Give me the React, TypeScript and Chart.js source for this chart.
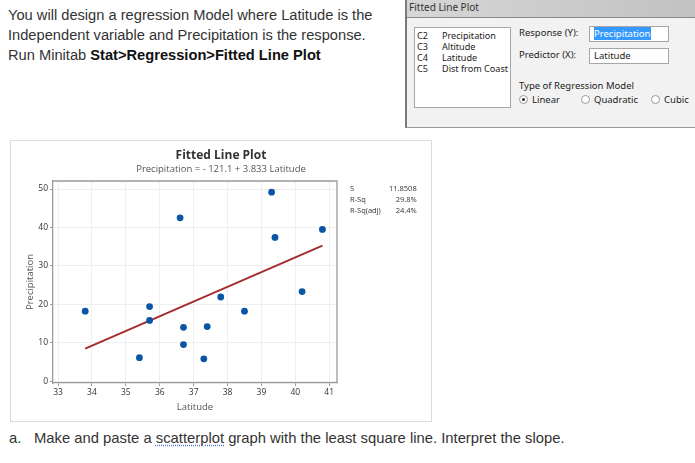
import React, { useEffect, useRef } from "react";
import { Chart, registerables } from "chart.js";
Chart.register(...registerables);

// ---- data ----
const latitude = [33.8, 35.4, 35.7, 35.7, 36.6, 36.7, 36.7, 37.3, 37.4, 37.8, 38.5, 39.3, 39.4, 40.2, 40.8];
const precipitation = [18.2, 6.1, 19.4, 15.8, 42.5, 14.0, 9.5, 5.8, 14.2, 21.9, 18.2, 49.2, 37.4, 23.3, 39.5];
const fitCoefficients = [-121.1, 3.833]; // intercept, slope
const statLabels = ["S", "R-Sq", "R-Sq(adj)"];
const statValues = ["11.8508", "29.8%", "24.4%"];
const xTickValues = [33, 34, 35, 36, 37, 38, 39, 40, 41];
const yTickValues = [0, 10, 20, 30, 40, 50];
const variableCodes = ["C2", "C3", "C4", "C5"];
const variableNames = ["Precipitation", "Altitude", "Latitude", "Dist from Coast"];
const regressionTypes = ["Linear", "Quadratic", "Cubic"];

const CHART_FONT = "'Open Sans', 'Noto Sans', sans-serif";
const UI_FONT = "'Noto Sans', 'Open Sans', sans-serif";
const PAGE_FONT = "'Liberation Sans', Arial, sans-serif";

const statsPlugin = {
  id: "statsBox",
  afterDraw(chart: any) {
    const { ctx, chartArea } = chart;
    ctx.save();
    ctx.font = `7.5px ${CHART_FONT}`;
    ctx.fillStyle = "#333";
    ctx.textBaseline = "middle";
    statLabels.forEach((lab, i) => {
      const y = chartArea.top + 8.3 + i * 10.65;
      ctx.textAlign = "left";
      ctx.fillText(lab, chartArea.right + 13, y);
      ctx.textAlign = "right";
      ctx.fillText(statValues[i], chartArea.right + 79.7, y);
    });
    ctx.restore();
  },
};

const frameBorderPlugin = {
  id: "plotFrame",
  afterDatasetsDraw(chart: any) {
    const { ctx, chartArea } = chart;
    ctx.save();
    ctx.strokeStyle = "#9a9a9a";
    ctx.lineWidth = 1.3;
    ctx.beginPath();
    ctx.moveTo(chartArea.left, chartArea.top);
    ctx.lineTo(chartArea.right, chartArea.top);
    ctx.lineTo(chartArea.right, chartArea.bottom);
    ctx.stroke();
    ctx.restore();
  },
};

function Radio({ checked }: { checked: boolean }) {
  return (
    <span
      style={{
        display: "inline-block",
        width: 9,
        height: 9,
        borderRadius: "50%",
        border: "1px solid #9a9a9a",
        background: "#fff",
        boxSizing: "border-box",
        position: "relative",
        verticalAlign: "middle",
      }}
    >
      {checked && (
        <span
          style={{
            position: "absolute",
            left: 2,
            top: 2,
            width: 3,
            height: 3,
            borderRadius: "50%",
            background: "#222",
          }}
        />
      )}
    </span>
  );
}

export default function App() {
  const ref = useRef<HTMLCanvasElement>(null);

  useEffect(() => {
    const canvas = ref.current!;
    const fitX = [Math.min(...latitude), Math.max(...latitude)];
    const fitData = fitX.map((x) => ({ x, y: fitCoefficients[0] + fitCoefficients[1] * x }));
    const points = latitude.map((x, i) => ({ x, y: precipitation[i] }));

    const chart = new Chart(canvas, {
      type: "scatter",
      data: {
        datasets: [
          {
            label: "Precipitation",
            data: points,
            backgroundColor: "#0b55a6",
            borderColor: "#0b55a6",
            borderWidth: 0,
            pointRadius: 3.4,
            order: 0,
          },
          {
            type: "line",
            label: "Fit",
            data: fitData,
            borderColor: "#a52a2a",
            borderWidth: 1.8,
            pointRadius: 0,
            showLine: true,
            fill: false,
            order: 1,
          } as any,
        ],
      },
      options: {
        animation: false,
        responsive: false,
        devicePixelRatio: 1,
        layout: { padding: 0 },
        plugins: {
          legend: { display: false },
          tooltip: { enabled: false },
          title: {
            display: true,
            text: "Fitted Line Plot",
            color: "#333",
            font: { family: CHART_FONT, size: 12, weight: "bold" },
            padding: { top: 7.5, bottom: 0 },
          },
          subtitle: {
            display: true,
            text: "Precipitation = - 121.1 + 3.833 Latitude",
            color: "#555",
            font: { family: CHART_FONT, size: 9.5 },
            padding: { top: 1, bottom: 5.7 },
          },
        },
        scales: {
          x: {
            type: "linear",
            min: 32.85,
            max: 41.23,
            afterBuildTicks: (s: any) => {
              s.ticks = xTickValues.map((v) => ({ value: v }));
            },
            afterFit: (s: any) => {
              s.height = 38;
            },
            grid: { color: "#efefef", tickColor: "#9a9a9a", tickLength: 3, lineWidth: 1 },
            border: { color: "#9a9a9a", width: 1.3 },
            ticks: {
              color: "#333",
              font: { family: CHART_FONT, size: 8.5 },
              padding: 1,
              maxRotation: 0,
              autoSkip: false,
              callback: (v: any) => String(v),
            },
            title: {
              display: true,
              text: "Latitude",
              color: "#555",
              font: { family: CHART_FONT, size: 9.5 },
              padding: { top: 0, bottom: 8.3 },
            },
          },
          y: {
            type: "linear",
            position: "left",
            min: -0.5,
            max: 52.1,
            afterBuildTicks: (s: any) => {
              s.ticks = yTickValues.map((v) => ({ value: v }));
            },
            afterFit: (s: any) => {
              s.width = 42;
            },
            grid: { color: "#efefef", tickColor: "#9a9a9a", tickLength: 3, lineWidth: 1 },
            border: { color: "#9a9a9a", width: 1.3 },
            ticks: {
              color: "#333",
              font: { family: CHART_FONT, size: 8.5 },
              padding: 2,
              autoSkip: false,
              callback: (v: any) => String(v),
            },
            title: {
              display: true,
              text: "Precipitation",
              color: "#555",
              font: { family: CHART_FONT, size: 9.5 },
              padding: { top: 13.8, bottom: 0 },
            },
          },
          y2: {
            type: "linear",
            position: "right",
            display: true,
            grid: { display: false, drawTicks: false },
            border: { display: false },
            ticks: { display: false },
            afterFit: (s: any) => {
              s.width = 94;
            },
          },
        },
      } as any,
      plugins: [statsPlugin, frameBorderPlugin],
    });
    return () => chart.destroy();
  }, []);

  return (
    <div
      style={{
        position: "fixed",
        left: 0,
        top: 0,
        width: 695,
        height: 463,
        background: "#fff",
        overflow: "hidden",
      }}
    >
      {/* top instructions */}
      <div
        style={{
          position: "absolute",
          left: 8,
          top: 6,
          fontFamily: PAGE_FONT,
          fontSize: 14.66,
          lineHeight: "19.8px",
          color: "#333",
          whiteSpace: "nowrap",
        }}
      >
        <div>You will design a regression Model where Latitude is the</div>
        <div>Independent variable and Precipitation is the response.</div>
        <div>
          Run Minitab <b style={{ color: "#111" }}>Stat&gt;Regression&gt;Fitted Line Plot</b>
        </div>
      </div>

      {/* dialog */}
      <div
        style={{
          position: "absolute",
          left: 405,
          top: 0,
          width: 290,
          height: 128,
          background: "#f2f2f2",
          borderLeft: "2px solid #7a7a7a",
          borderBottom: "1px solid #9a9a9a",
          boxSizing: "border-box",
          fontFamily: UI_FONT,
          color: "#222",
        }}
      >
        <div
          style={{
            position: "absolute",
            left: 0,
            top: 0,
            width: 288,
            height: 18,
            background: "linear-gradient(to right, #d6d6d6, #c2c2c2)",
            borderBottom: "1px solid #8a8a8a",
            boxSizing: "border-box",
            fontSize: 10,
            lineHeight: "14px",
            paddingLeft: 2,
            color: "#333",
          }}
        >
          Fitted Line Plot
        </div>
        {/* list box */}
        <div
          style={{
            position: "absolute",
            left: 7,
            top: 27,
            width: 97,
            height: 81,
            background: "#fff",
            border: "1px solid #a6a6a6",
            boxSizing: "border-box",
            fontSize: 9.1,
            lineHeight: "11.2px",
          }}
        >
          {variableCodes.map((c, i) => (
            <div key={c} style={{ position: "absolute", left: 2, top: 1.5 + i * 11.2, whiteSpace: "nowrap" }}>
              <span style={{ display: "inline-block", width: 25 }}>{c}</span>
              {variableNames[i]}
            </div>
          ))}
        </div>
        <div style={{ position: "absolute", left: 112, top: 26, fontSize: 9.5, whiteSpace: "nowrap" }}>Response (Y):</div>
        <div style={{ position: "absolute", left: 112, top: 48, fontSize: 9.5, whiteSpace: "nowrap" }}>Predictor (X):</div>
        <div
          style={{
            position: "absolute",
            left: 182,
            top: 26,
            width: 80,
            height: 16,
            background: "#fff",
            border: "1px solid #a6a6a6",
            boxSizing: "border-box",
            fontSize: 9.5,
            lineHeight: "13px",
          }}
        >
          <span style={{ marginLeft: 4, background: "#3399ff", color: "#fff", paddingRight: 1 }}>Precipitation</span>
        </div>
        <div
          style={{
            position: "absolute",
            left: 182,
            top: 48,
            width: 80,
            height: 16,
            background: "#fff",
            border: "1px solid #a6a6a6",
            boxSizing: "border-box",
            fontSize: 9.5,
            lineHeight: "13px",
            paddingLeft: 4,
          }}
        >
          Latitude
        </div>
        <div style={{ position: "absolute", left: 112, top: 79, fontSize: 9.5, whiteSpace: "nowrap" }}>
          Type of Regression Model
        </div>
        {regressionTypes.map((t, i) => (
          <div
            key={t}
            style={{
              position: "absolute",
              left: [112, 174, 244][i],
              top: 92,
              fontSize: 9.5,
              whiteSpace: "nowrap",
            }}
          >
            <Radio checked={i === 0} />
            <span style={{ marginLeft: 4, verticalAlign: "middle" }}>{t}</span>
          </div>
        ))}
      </div>

      {/* chart frame */}
      <div
        style={{
          position: "absolute",
          left: 10,
          top: 140,
          width: 422,
          height: 282,
          border: "1px solid #dcdcdc",
          boxSizing: "border-box",
        }}
      >
        <canvas ref={ref} width={420} height={280} style={{ display: "block", width: 420, height: 280 }} />
      </div>

      {/* bottom question */}
      <div
        style={{
          position: "absolute",
          left: 9,
          top: 429,
          fontFamily: PAGE_FONT,
          fontSize: 14.8,
          lineHeight: "19px",
          color: "#333",
          whiteSpace: "nowrap",
        }}
      >
        <span style={{ display: "inline-block", width: 25 }}>a.</span>
        Make and paste a{" "}
        <span style={{ textDecoration: "underline dotted #5577cc", textUnderlineOffset: 2 }}>scatterplot</span> graph
        with the least square line. Interpret the slope.
      </div>
    </div>
  );
}
